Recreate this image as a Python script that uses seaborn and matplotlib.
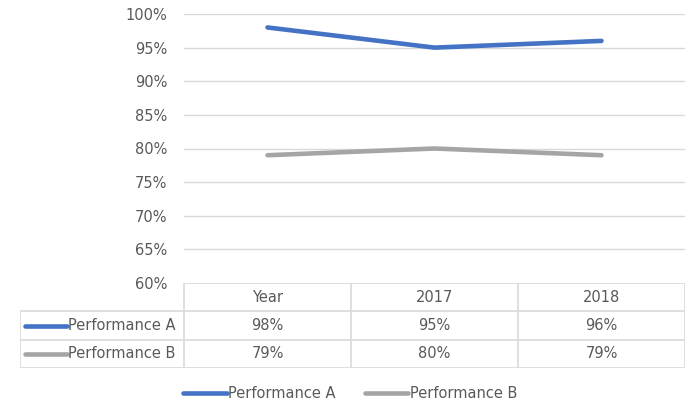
import matplotlib
matplotlib.use("Agg")
import matplotlib.pyplot as plt
import pandas as pd
import seaborn as sns

categories = ["Year", "2017", "2018"]
series_names = ["Performance A", "Performance B"]
perf_a = [98, 95, 96]
perf_b = [79, 80, 79]
y_ticks = [60, 65, 70, 75, 80, 85, 90, 95, 100]

colors = {"Performance A": "#4472C4", "Performance B": "#A5A5A5"}
grid_c = "#D9D9D9"
text_c = "#595959"
fs = 10.5

df = pd.DataFrame({
    "cat": categories * 2,
    "x": list(range(len(categories))) * 2,
    "value": perf_a + perf_b,
    "series": [series_names[0]] * 3 + [series_names[1]] * 3,
})

sns.set_style("white")
plt.rcParams["font.family"] = ["DejaVu Sans"]

W, H = 700, 409
fig = plt.figure(figsize=(W / 100, H / 100), dpi=100)

# main plot area (pixel positions from the reference)
left, right, top, bottom = 184, 685, 14, 283
ax = fig.add_axes([left / W, 1 - bottom / H, (right - left) / W, (bottom - top) / H])

sns.lineplot(data=df, x="x", y="value", hue="series", palette=colors,
             linewidth=3.3, ax=ax, legend=False, solid_capstyle="round")

ax.set_xlim(-0.5, len(categories) - 0.5)
ax.set_ylim(60, 100)
ax.set_yticks(y_ticks)
ax.set_yticklabels([f"{t}%" for t in y_ticks], color=text_c, fontsize=fs)
ax.tick_params(axis="y", length=0, pad=12)
ax.set_xticks([])
ax.set_xlabel("")
ax.set_ylabel("")
for t in y_ticks[1:]:
    ax.axhline(t, color=grid_c, linewidth=1, zorder=0)
for s in ax.spines.values():
    s.set_visible(False)

# data table below the plot
tleft, tbottom = 20, 368
cat_w = (right - left) / len(categories)
tx0 = -0.5 - (left - tleft) / cat_w
tab = fig.add_axes([tleft / W, 1 - tbottom / H, (right - tleft) / W, (tbottom - bottom) / H])
tab.set_xlim(tx0, len(categories) - 0.5)
tab.set_ylim(3, 0)
tab.axis("off")

lw = 1.2
# horizontal lines
tab.plot([-0.5, 2.5], [0, 0], color=grid_c, lw=lw)
for r in [1, 2, 3]:
    tab.plot([tx0, 2.5], [r, r], color=grid_c, lw=lw)
# vertical lines
tab.plot([tx0, tx0], [1, 3], color=grid_c, lw=lw)
for c in [-0.5, 0.5, 1.5, 2.5]:
    tab.plot([c, c], [0, 3], color=grid_c, lw=lw)

for i, cat in enumerate(categories):
    tab.text(i, 0.5, cat, ha="center", va="center", color=text_c, fontsize=fs)
for r, (name, vals) in enumerate(zip(series_names, [perf_a, perf_b]), start=1):
    for i, v in enumerate(vals):
        tab.text(i, r + 0.5, f"{v}%", ha="center", va="center", color=text_c, fontsize=fs)
    kx0 = tx0 + 5 / cat_w
    kx1 = tx0 + 47 / cat_w
    tab.plot([kx0, kx1], [r + 0.5, r + 0.5], color=colors[name], lw=3.3,
             solid_capstyle="round")
    tab.text(kx1 + 1 / cat_w, r + 0.5, name, ha="left", va="center", color=text_c, fontsize=fs)

# bottom legend
handles = [plt.Line2D([], [], color=colors[n], lw=3.3, solid_capstyle="round") for n in series_names]
fig.legend(handles, series_names, loc="center", bbox_to_anchor=(0.5, 1 - 394 / H),
           ncol=2, frameon=False, fontsize=fs, labelcolor=text_c,
           handlelength=3.0, handletextpad=0.1, columnspacing=2.0)

fig.savefig("out.png", dpi=100)
